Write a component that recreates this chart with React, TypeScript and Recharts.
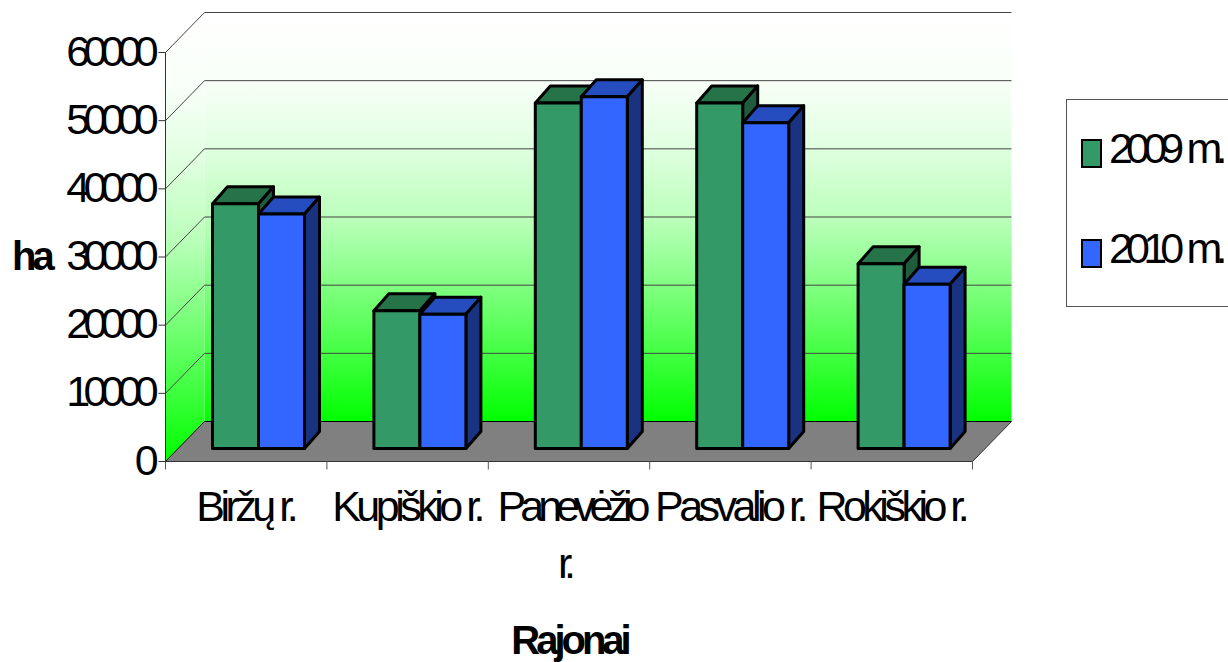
import React from "react";
import { BarChart, Bar, XAxis, YAxis } from "recharts";

const CATEGORIES = ["Biržų r.", "Kupiškio r.", "Panevėžio r.", "Pasvalio r.", "Rokiškio r."];
const VALUES_2009 = [35900, 20200, 50700, 50700, 27100];
const VALUES_2010 = [34400, 19700, 51600, 47800, 24100];
const Y_TICKS = [0, 10000, 20000, 30000, 40000, 50000, 60000];
const WRAPPED: Record<string, string[]> = { "Panevėžio r.": ["Panevėžio", "r."] };

const data = CATEGORIES.map((name, i) => ({
  name,
  v2009: VALUES_2009[i],
  v2010: VALUES_2010[i],
}));

const W = 1228;
const H = 662;
const LEFT = 165.5;
const RIGHT = 972.5;
const TOP = 52.5;
const BOTTOM = 461.5;
const WALL_X = 39; // depth of the box
const WALL_Y = 40;
const SHIFT_X = 12; // bars stand this far into the box
const SHIFT_Y = 13;
const BAR_DX = 15;
const BAR_DY = 17;
const BAND = (RIGHT - LEFT) / CATEGORIES.length;

const FONT = { fontFamily: "'Liberation Sans', Arial, sans-serif", fontSize: 43, letterSpacing: -6.8 };
const BOLD = { ...FONT, fontWeight: "bold", fontSize: 40, letterSpacing: -4 };

function Bar3D({ x, y, width, height, fill, top, side }: any) {
  const l = x + SHIFT_X;
  const r = l + width;
  const t = y - SHIFT_Y;
  const b = t + height;
  const line = { stroke: "#000", strokeWidth: 3, strokeLinejoin: "round" as const };
  return (
    <g>
      <path d={`M${l},${t} L${l + BAR_DX},${t - BAR_DY} L${r + BAR_DX},${t - BAR_DY} L${r},${t} Z`} fill={top} {...line} />
      <path d={`M${r},${t} L${r + BAR_DX},${t - BAR_DY} L${r + BAR_DX},${b - BAR_DY} L${r},${b} Z`} fill={side} {...line} />
      <rect x={l} y={t} width={width} height={height} fill={fill} {...line} />
    </g>
  );
}

function Walls() {
  const backL = LEFT + WALL_X;
  const backR = RIGHT + WALL_X;
  return (
    <g>
      <defs>
        <linearGradient id="wall" x1="0" y1="0" x2="0" y2="1">
          <stop offset="0%" stopColor="#ffffff" />
          <stop offset="16.5%" stopColor="#f8fff8" />
          <stop offset="33%" stopColor="#e0ffe0" />
          <stop offset="50%" stopColor="#bcffbc" />
          <stop offset="67%" stopColor="#80ff80" />
          <stop offset="84%" stopColor="#40ff40" />
          <stop offset="100%" stopColor="#00ff00" />
        </linearGradient>
      </defs>
      <rect x={backL} y={TOP - WALL_Y} width={RIGHT - LEFT} height={BOTTOM - TOP} fill="url(#wall)" />
      <path
        d={`M${LEFT},${TOP} L${backL},${TOP - WALL_Y} L${backL},${BOTTOM - WALL_Y} L${LEFT},${BOTTOM} Z`}
        fill="url(#wall)"
      />
      <path
        d={`M${LEFT},${BOTTOM} L${backL},${BOTTOM - WALL_Y} L${backR},${BOTTOM - WALL_Y} L${RIGHT},${BOTTOM} Z`}
        fill="#808080"
      />
      {Y_TICKS.map((v) => {
        const yy = BOTTOM - (v / 60000) * (BOTTOM - TOP);
        return (
          <path
            key={v}
            d={`M${LEFT},${yy} L${backL},${yy - WALL_Y} L${backR},${yy - WALL_Y}`}
            fill="none"
            stroke={v === 0 ? "#000" : "#444"}
            strokeWidth={1}
          />
        );
      })}
      <path d={`M${RIGHT},${BOTTOM} L${backR},${BOTTOM - WALL_Y}`} stroke="#333" strokeWidth={1} />
    </g>
  );
}

function YTick({ x, y, payload }: any) {
  return (
    <text x={x - 4.6} y={y + 13} textAnchor="end" fill="#000" {...FONT}>
      {payload.value}
    </text>
  );
}

function XTick({ x, payload, index }: any) {
  const lines = WRAPPED[payload.value] || [payload.value];
  const wrapped = lines.length > 1;
  const tickX = x - BAND / 2;
  return (
    <g>
      <line x1={tickX} x2={tickX} y1={BOTTOM} y2={BOTTOM + 8} stroke="#555" strokeWidth={1} />
      {index === CATEGORIES.length - 1 && (
        <line x1={tickX + BAND} x2={tickX + BAND} y1={BOTTOM} y2={BOTTOM + 8} stroke="#555" strokeWidth={1} />
      )}
      {lines.map((t: string, i: number) => (
        <text
          key={t}
          x={wrapped ? (i === 0 ? x + 2 : x - 5) : x - 1}
          y={521 + i * 57}
          textAnchor="middle"
          fill="#000"
          {...FONT}
          letterSpacing={wrapped ? -6 : -4.5}
        >
          {t}
        </text>
      ))}
    </g>
  );
}

function Extras() {
  const swatch = { stroke: "#000", strokeWidth: 2 };
  return (
    <g>
      <text x={12} y={270} fill="#000" {...BOLD}>
        ha
      </text>
      <text x={569.5} y={654} textAnchor="middle" fill="#000" {...BOLD}>
        Rajonai
      </text>
      <rect x={1066.5} y={99.5} width={200} height={207} fill="#fff" stroke="#555" strokeWidth={1} />
      <rect x={1082} y={140} width={19} height={27} fill="#339966" {...swatch} />
      <text x={1109} y={163} fill="#000" wordSpacing={4} {...FONT}>
        2009 m.
      </text>
      <rect x={1082} y={240} width={19} height={27} fill="#3366ff" {...swatch} />
      <text x={1109} y={263} fill="#000" wordSpacing={4} {...FONT}>
        2010 m.
      </text>
    </g>
  );
}

export default function App() {
  return (
    <div style={{ position: "absolute", left: 0, top: 0, width: W, height: H, overflow: "hidden", background: "#fff" }}>
      <BarChart
        width={W}
        height={H}
        data={data}
        margin={{ top: TOP, right: W - RIGHT, bottom: 0, left: 0 }}
        barSize={46}
        barGap={0}
      >
        <Walls />
        <XAxis dataKey="name" height={H - BOTTOM} interval={0} tick={<XTick />} tickLine={false} stroke="#333" />
        <YAxis
          width={LEFT}
          domain={[0, 60000]}
          ticks={Y_TICKS}
          tick={<YTick />}
          tickSize={7}
          stroke="#333"
          interval={0}
        />
        <Bar
          dataKey="v2009"
          name="2009 m."
          fill="#339966"
          isAnimationActive={false}
          shape={(p: any) => <Bar3D {...p} top="#267349" side="#1f5c3d" />}
        />
        <Bar
          dataKey="v2010"
          name="2010 m."
          fill="#3366ff"
          isAnimationActive={false}
          shape={(p: any) => <Bar3D {...p} top="#264dbf" side="#1a3380" />}
        />
        <Extras />
      </BarChart>
    </div>
  );
}
